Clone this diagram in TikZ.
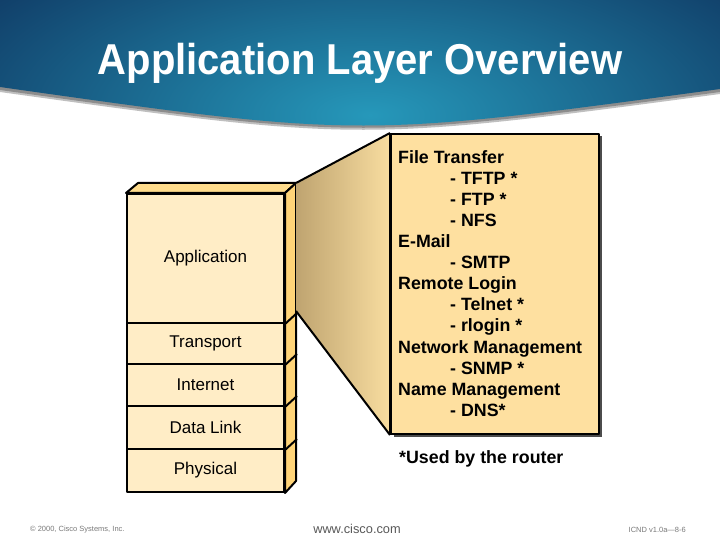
\documentclass[tikz,border=0pt]{standalone}
\usepackage{fontspec}
\setmainfont{Liberation Sans}
\definecolor{hnavy}{HTML}{0C2C58}
\definecolor{hteal}{HTML}{2698BA}
\definecolor{sfront}{HTML}{FFEDC6}
\definecolor{sside}{HTML}{FFD478}
\definecolor{stop}{HTML}{FFDC8C}
\definecolor{boxfill}{HTML}{FEE0A0}
\definecolor{ftan}{HTML}{BFA470}
\definecolor{flight}{HTML}{F8DDA0}
\definecolor{foot}{HTML}{7A7A7A}
\tikzset{
  outl/.style={draw=black, line width=2pt, line join=round},
  layer/.style={outl, fill=sfront, minimum width=157pt, inner sep=0pt,
    font=\fontsize{17}{20}\selectfont},
  boxtext/.style={font=\bfseries\fontsize{17.8}{21.1}\selectfont, align=left, inner sep=0pt},
  foottext/.style={text=foot, inner sep=0pt}
}
\begin{document}
\begin{tikzpicture}[x=1pt,y=-1pt]
\useasboundingbox (0,0) rectangle (720,540);
\fill[white] (0,0) rectangle (720,540);
% header shadow and header
\fill[black!25] (0,0) -- (720,0) -- (720,94) .. controls (360,142) .. (0,92) -- cycle;
\fill[black!45] (0,0) -- (720,0) -- (720,92) .. controls (360,140) .. (0,90) -- cycle;
\begin{scope}
\clip (0,0) -- (720,0) -- (720,89) .. controls (360,138) .. (0,87) -- cycle;
\shade[inner color=hteal, outer color=hnavy] (370,115) ellipse (560pt and 240pt);
\end{scope}
\node[text=white, font=\bfseries\fontsize{40}{48}\selectfont] (title) at (360,63) {\scalebox{1}[1.08]{Application Layer Overview}};
% stack
\node[layer, minimum height=129pt] (app) at (205.5,258.5) {Application};
\node[layer, minimum height=41pt] (tra) at (205.5,343.5) {Transport};
\node[layer, minimum height=42pt] (int) at (205.5,385) {Internet};
\node[layer, minimum height=43pt] (dl) at (205.5,427.5) {Data Link};
\node[layer, minimum height=43pt] (phy) at (205.5,470.5) {Physical};
\coordinate (tbl) at (138,183);
\coordinate (tbr) at (296,183);
\coordinate (sbr) at (296,481);
\filldraw[outl, fill=stop] (app.north west) -- (tbl) -- (tbr) -- (app.north east) -- cycle;
\filldraw[outl, fill=sside] (app.north east) -- (tbr) -- (sbr) -- (phy.south east) -- cycle;
\foreach \n in {app,tra,int,dl}{\draw[outl] (\n.south east) -- ++(12,-11);}
% box with shadow
\fill[black!70] (393.5,136.5) rectangle (601.5,436.5);
\node[outl, fill=boxfill, minimum width=208pt, minimum height=300pt, anchor=north west, inner sep=0pt] (box) at (390,133) {};
% funnel
\coordinate (fl) at (296,311);
\shade[left color=ftan, right color=flight] (tbr) -- (box.north west) -- (box.south west) -- (fl) -- cycle;
\draw[outl] (tbr) -- (box.north west);
\draw[outl] (fl) -- (box.south west);
\draw[outl] (box.north west) -- (box.south west);
\draw[outl] (fl) -- (sbr);
\node[boxtext, anchor=north west] (list) at (398,150) {File Transfer\\
\hspace*{52pt}- TFTP *\\
\hspace*{52pt}- FTP *\\
\hspace*{52pt}- NFS\\
E-Mail\\
\hspace*{52pt}- SMTP\\
Remote Login\\
\hspace*{52pt}- Telnet *\\
\hspace*{52pt}- rlogin *\\
Network Management\\
\hspace*{52pt}- SNMP *\\
Name Management\\
\hspace*{52pt}- DNS*};
\node[boxtext, anchor=base west] (note) at (399,463) {*Used by the router};
% footer
\node[foottext, font=\fontsize{7.5}{9}\selectfont, anchor=west] (copy) at (30,530) {© 2000, Cisco Systems, Inc.};
\node[foottext, text=black!65, font=\fontsize{12.8}{15}\selectfont] (www) at (357,529) {www.cisco.com};
\node[foottext, font=\fontsize{7.5}{9}\selectfont, anchor=east] (icnd) at (686,530) {ICND v1.0a—8-6};
\end{tikzpicture}
\end{document}
